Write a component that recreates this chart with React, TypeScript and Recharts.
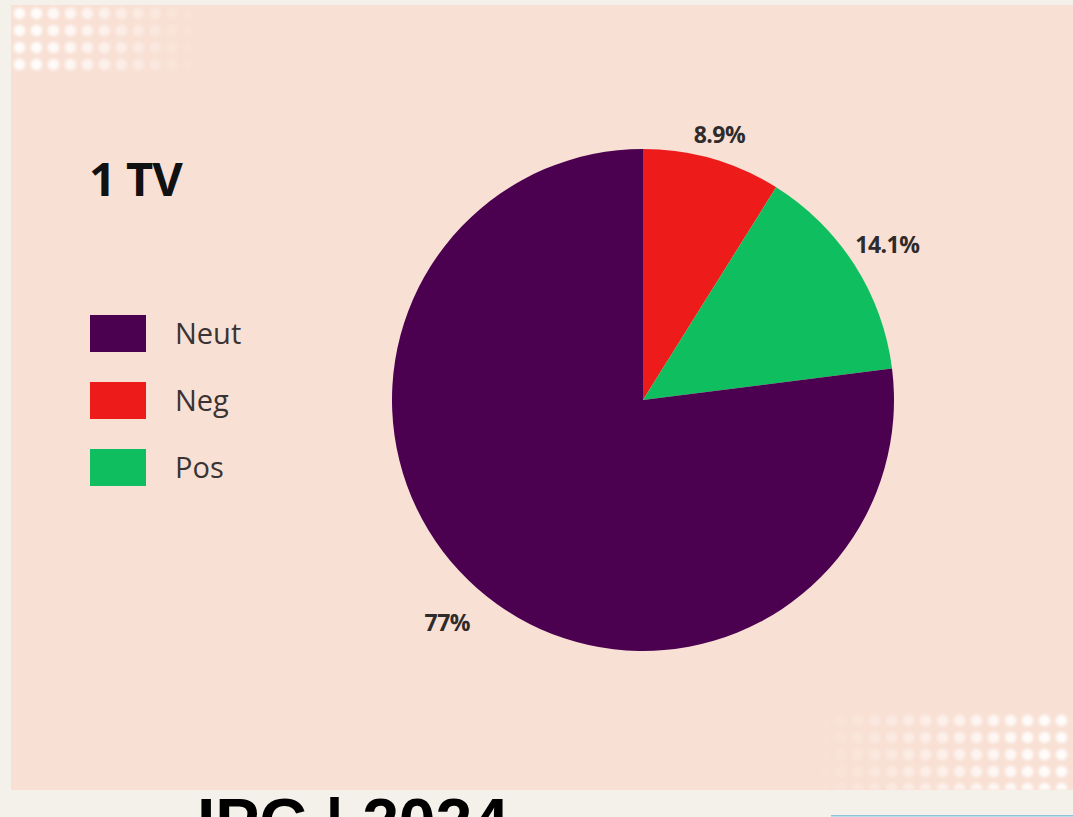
import { PieChart, Pie, Cell } from "recharts";

const sliceNames = ["Neg", "Pos", "Neut"];
const sliceValues = [8.9, 14.1, 77];
const legendOrder = ["Neut", "Neg", "Pos"];
const chartTitle = "1 TV";
const footerText = "IPC | 2024";

const COLORS: Record<string, string> = {
  Neut: "#4b0150",
  Neg: "#ee1b1b",
  Pos: "#0fbf5f",
};

const data = sliceNames.map((name, i) => ({ name, value: sliceValues[i] }));

const RADIAN = Math.PI / 180;

function renderLabel(props: any) {
  const { cx, cy, midAngle, outerRadius, value } = props;
  const name = props.name ?? props.payload?.name;
  const gap: Record<string, number> = { Neg: 26, Pos: 39, Neut: 45 };
  const r = outerRadius + (gap[name] ?? 35);
  const x = cx + r * Math.cos(-midAngle * RADIAN);
  const y = cy + r * Math.sin(-midAngle * RADIAN);
  return (
    <text
      x={x}
      y={y}
      textAnchor="middle"
      dominantBaseline="central"
      fill="#2f2b2b"
      fontSize={23}
      fontWeight={700}
      fontFamily="'Open Sans', sans-serif"
      letterSpacing={-0.5}
    >
      {`${value}%`}
    </text>
  );
}

function LegendBox() {
  return (
    <div>
      {legendOrder.map((name) => (
        <div key={name} style={{ display: "flex", alignItems: "center", height: 38, marginBottom: 29 }}>
          <div style={{ width: 56, height: 37, background: COLORS[name] }} />
          <span
            style={{
              marginLeft: 29,
              fontSize: 29,
              color: "#3a3333",
              fontFamily: "'Open Sans', sans-serif",
              lineHeight: "38px",
            }}
          >
            {name}
          </span>
        </div>
      ))}
    </div>
  );
}

const dots = (size: number) =>
  `radial-gradient(circle, rgba(255,255,255,0.9) 4.5px, rgba(255,255,255,0) 7px) 0 0 / ${size}px ${size}px`;

export default function App() {
  return (
    <div
      style={{
        position: "absolute",
        left: 0,
        top: 0,
        width: 1073,
        height: 817,
        background: "#f4f1ea",
        overflow: "hidden",
        fontFamily: "'Open Sans', sans-serif",
      }}
    >
      <div style={{ position: "absolute", left: 11, top: 5, width: 1062, height: 785, background: "#f9e0d4" }} />
      {/* faded dot patterns in the corners */}
      <div
        style={{
          position: "absolute",
          left: 11,
          top: 5,
          width: 190,
          height: 68,
          background: dots(17),
          filter: "blur(1.5px)",
          WebkitMaskImage: "linear-gradient(to right, black 15%, transparent 100%)",
          maskImage: "linear-gradient(to right, black 15%, transparent 100%)",
        }}
      />
      <div
        style={{
          position: "absolute",
          left: 815,
          top: 712,
          width: 258,
          height: 78,
          background: dots(17),
          filter: "blur(1.5px)",
          WebkitMaskImage: "linear-gradient(to left, black 15%, transparent 100%)",
          maskImage: "linear-gradient(to left, black 15%, transparent 100%)",
        }}
      />

      <div
        style={{
          position: "absolute",
          left: 89,
          top: 146,
          fontSize: 47,
          fontWeight: 700,
          color: "#111",
          letterSpacing: -1,
        }}
      >
        {chartTitle}
      </div>

      <div style={{ position: "absolute", left: 0, top: 0 }}>
        <PieChart width={1073} height={817} margin={{ top: 0, right: 0, bottom: 0, left: 0 }}>
          <Pie
            data={data}
            dataKey="value"
            nameKey="name"
            cx={643}
            cy={400}
            outerRadius={251}
            startAngle={90}
            endAngle={-270}
            stroke="none"
            label={renderLabel}
            labelLine={false}
            isAnimationActive={false}
          >
            {data.map((entry) => (
              <Cell key={entry.name} fill={COLORS[entry.name]} />
            ))}
          </Pie>
        </PieChart>
      </div>

      <div style={{ position: "absolute", left: 90, top: 314 }}>
        <LegendBox />
      </div>

      <div
        style={{
          position: "absolute",
          left: 197,
          top: 782,
          fontSize: 66,
          fontWeight: 700,
          color: "#000",
          fontFamily: "'Liberation Sans', Arial, sans-serif",
          whiteSpace: "pre",
          lineHeight: "80px",
        }}
      >
        {footerText}
      </div>
      <div
        style={{
          position: "absolute",
          left: 831,
          top: 815,
          width: 242,
          height: 2,
          background: "#b9dcea",
          borderTop: "1px solid #8fc3d8",
        }}
      />
    </div>
  );
}
